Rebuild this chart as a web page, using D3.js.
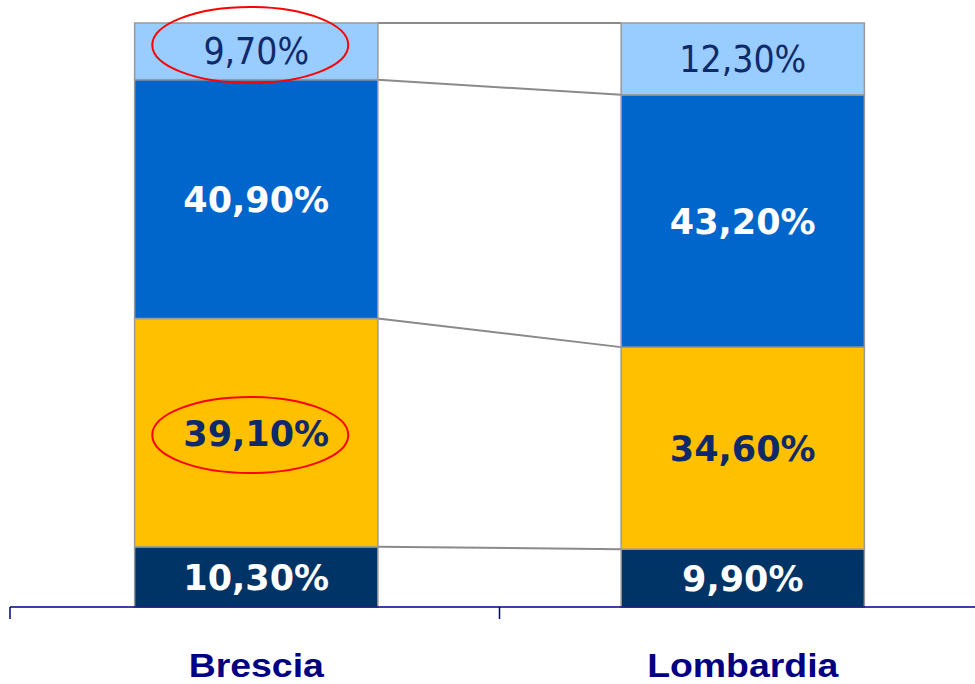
<!DOCTYPE html>
<html>
<head>
<meta charset="utf-8">
<script src="https://cdn.jsdelivr.net/npm/d3@7"></script>
<style>
  html, body { margin: 0; padding: 0; background: #fff; }
  svg { display: block; }
</style>
</head>
<body>
<svg id="chart"></svg>
<script>
const areas = ["Brescia", "Lombardia"];
const segments = ["s1", "s2", "s3", "s4"];           // bottom -> top
const brescia = [10.3, 39.1, 40.9, 9.7];
const lombardia = [9.9, 34.6, 43.2, 12.3];
const circled = [["Brescia", "s2"], ["Brescia", "s4"]];

const fills = ["#003366", "#FFC000", "#0066CC", "#99CCFF"];
const textFill = ["#fff", "#0F2A6B", "#fff", "#0F2A6B"];
const textBold = [true, true, true, false];

const w = 975, h = 684;
const svg = d3.select("#chart").attr("width", w).attr("height", h);

const rows = areas.map((a, i) => {
  const r = { area: a };
  const vals = i === 0 ? brescia : lombardia;
  segments.forEach((s, j) => r[s] = vals[j]);
  return r;
});
const series = d3.stack().keys(segments)(rows);

const x = d3.scaleBand().domain(areas).range([13, 986]).paddingInner(0.5).paddingOuter(0.25);
const y = d3.scaleLinear().domain([0, 100]).range([607, 23]);

// connector lines between the bars
const b0 = x("Brescia") + x.bandwidth(), b1 = x("Lombardia");
series.forEach(s => {
  svg.append("line")
    .attr("x1", b0).attr("x2", b1)
    .attr("y1", y(s[0][1])).attr("y2", y(s[1][1]))
    .attr("stroke", "#8a8a8a").attr("stroke-width", 2);
});

// bars
const g = svg.append("g");
series.forEach((s, j) => {
  g.selectAll(null).data(s).enter().append("rect")
    .attr("x", d => x(d.data.area))
    .attr("y", d => y(d[1]))
    .attr("width", x.bandwidth())
    .attr("height", d => y(d[0]) - y(d[1]))
    .attr("fill", fills[j])
    .attr("stroke", "#999")
    .attr("stroke-width", 1.5);
});

// labels
series.forEach((s, j) => {
  svg.selectAll(null).data(s).enter().append("text")
    .attr("x", d => x(d.data.area) + x.bandwidth() / 2)
    .attr("y", d => (y(d[0]) + y(d[1])) / 2 + 13)
    .attr("text-anchor", "middle")
    .attr("font-family", textBold[j] ? "'DejaVu Sans', sans-serif" : "'DejaVu Sans Condensed', 'DejaVu Sans', sans-serif")
    .attr("font-weight", textBold[j] ? "bold" : "normal")
    .attr("font-size", textBold[j] ? 35 : 37)
    .attr("fill", textFill[j])
    .text(d => (d[1] - d[0]).toFixed(2).replace(".", ",") + "%");
});

// red ellipses
circled.forEach(([a, k]) => {
  const cy = k === "s4" ? 45 : 435;
  svg.append("ellipse")
    .attr("cx", x(a) + x.bandwidth() / 2 - 6)
    .attr("cy", cy)
    .attr("rx", 98).attr("ry", 38)
    .attr("fill", "none").attr("stroke", "#f00").attr("stroke-width", 2);
});

// axis
const ax = svg.append("g").attr("stroke", "#000080").attr("stroke-width", 1.5);
ax.append("line").attr("x1", 10).attr("x2", w).attr("y1", 607).attr("y2", 607);
[10, (x("Brescia") + x.bandwidth() + x("Lombardia")) / 2].forEach(t => {
  ax.append("line").attr("x1", t).attr("x2", t).attr("y1", 607).attr("y2", 619);
});

svg.selectAll(".cat").data(areas).enter().append("text")
  .attr("class", "cat")
  .attr("transform", d => `translate(${x(d) + x.bandwidth() / 2},677) scale(1.1,1)`)
  .attr("text-anchor", "middle")
  .attr("font-family", "'Liberation Sans', Arial, sans-serif")
  .attr("font-weight", "bold")
  .attr("font-size", 34)
  .attr("fill", "#000080")
  .text(d => d);
</script>
</body>
</html>
